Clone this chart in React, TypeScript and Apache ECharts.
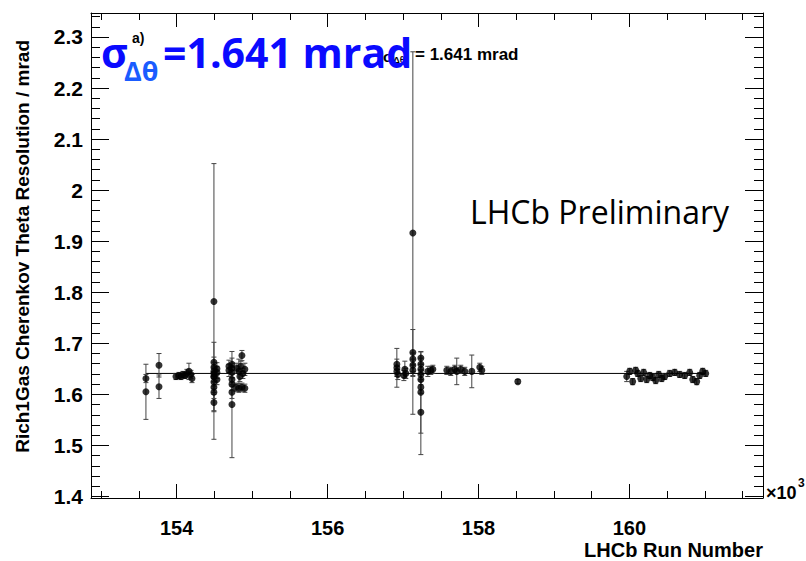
import React, { useEffect, useRef } from 'react';
import * as echarts from 'echarts';

// LHCb run number (in units of 10^3)
const runNumber: number[] = [
  153.593, 153.593, 153.766, 153.766,
  153.991, 154.030, 154.057, 154.083, 154.110, 154.136, 154.163, 154.189, 154.203,
  154.494, 154.494, 154.494, 154.494, 154.494, 154.494, 154.494, 154.494, 154.494, 154.494, 154.494,
  154.534, 154.534, 154.534,
  154.693, 154.693, 154.733, 154.733, 154.733, 154.733, 154.733, 154.733, 154.733,
  154.785, 154.799, 154.825, 154.825, 154.838, 154.851, 154.865, 154.865, 154.878, 154.904, 154.904,
  156.918, 156.918, 156.918, 156.931, 157.024, 157.037, 157.011,
  157.130, 157.130, 157.130, 157.130, 157.130,
  157.236, 157.236, 157.236, 157.236, 157.236, 157.236, 157.236, 157.236,
  157.329, 157.368, 157.395,
  157.580, 157.633, 157.686, 157.712, 157.765, 157.818, 157.911, 158.017, 158.044, 158.521,
  159.964, 160.004, 160.043, 160.083, 160.110, 160.150, 160.189, 160.229, 160.269, 160.309,
  160.348, 160.388, 160.428, 160.468, 160.534, 160.600, 160.666, 160.733, 160.799, 160.839,
  160.892, 160.931, 160.971, 161.011,
];

// Rich1Gas Cherenkov theta resolution (mrad)
const resolution: number[] = [
  1.631, 1.605, 1.657, 1.615,
  1.635, 1.637, 1.635, 1.639, 1.637, 1.641, 1.645, 1.639, 1.631,
  1.782, 1.663, 1.653, 1.645, 1.641, 1.635, 1.634, 1.624, 1.614, 1.604, 1.584,
  1.650, 1.643, 1.629,
  1.647, 1.655, 1.659, 1.651, 1.643, 1.629, 1.620, 1.604, 1.580,
  1.614, 1.651, 1.645, 1.612, 1.635, 1.655, 1.676, 1.614, 1.641, 1.649, 1.612,
  1.659, 1.652, 1.645, 1.639, 1.649, 1.641, 1.637,
  1.916, 1.682, 1.669, 1.657, 1.647,
  1.671, 1.659, 1.649, 1.639, 1.629, 1.614, 1.604, 1.565,
  1.645, 1.647, 1.649,
  1.647, 1.645, 1.649, 1.645, 1.649, 1.645, 1.645, 1.653, 1.647, 1.625,
  1.635, 1.645, 1.625, 1.647, 1.641, 1.631, 1.643, 1.629, 1.637, 1.633,
  1.627, 1.639, 1.631, 1.635, 1.641, 1.643, 1.639, 1.637, 1.643, 1.629,
  1.625, 1.637, 1.645, 1.641,
];

// symmetric uncertainty on the resolution (mrad)
const resolutionErr: number[] = [
  0.008, 0.054, 0.023, 0.023,
  0.006, 0.006, 0.006, 0.006, 0.006, 0.008, 0.016, 0.008, 0.008,
  0.270, 0.010, 0.010, 0.010, 0.010, 0.010, 0.068, 0.012, 0.010, 0.012, 0.016,
  0.012, 0.012, 0.010,
  0.012, 0.012, 0.012, 0.010, 0.010, 0.010, 0.012, 0.012, 0.104,
  0.008, 0.010, 0.024, 0.008, 0.010, 0.010, 0.010, 0.008, 0.010, 0.012, 0.008,
  0.010, 0.038, 0.010, 0.010, 0.016, 0.010, 0.010,
  0.355, 0.045, 0.012, 0.012, 0.012,
  0.012, 0.012, 0.010, 0.010, 0.010, 0.012, 0.080, 0.083,
  0.010, 0.008, 0.008,
  0.008, 0.008, 0.008, 0.026, 0.008, 0.008, 0.032, 0.008, 0.008, 0.004,
  0.010, 0.006, 0.006, 0.006, 0.006, 0.006, 0.006, 0.006, 0.006, 0.006,
  0.006, 0.006, 0.006, 0.006, 0.006, 0.006, 0.006, 0.006, 0.006, 0.006,
  0.006, 0.006, 0.006, 0.006,
];

const fitValue = 1.641;
const fitRange: number[] = [153.593, 161.011];

const xMajorTicks: number[] = [154, 156, 158, 160];
const xMinorTicks: number[] = [153, 153.5, 154.5, 155, 155.5, 156.5, 157, 157.5, 158.5, 159, 159.5, 160.5, 161, 161.5];
const yMajorTicks: number[] = [1.4, 1.5, 1.6, 1.7, 1.8, 1.9, 2.0, 2.1, 2.2, 2.3];
const yMinorTicks: number[] = [
  1.42, 1.44, 1.46, 1.48, 1.52, 1.54, 1.56, 1.58, 1.62, 1.64, 1.66, 1.68,
  1.72, 1.74, 1.76, 1.78, 1.82, 1.84, 1.86, 1.88, 1.92, 1.94, 1.96, 1.98,
  2.02, 2.04, 2.06, 2.08, 2.12, 2.14, 2.16, 2.18, 2.22, 2.24, 2.26, 2.28,
  2.32, 2.34,
];

const X_MIN = 152.865;
const X_MAX = 161.77;
const Y_MIN = 1.397;
const Y_MAX = 2.347;

const AXIS_FONT = 'Liberation Sans';

export default function App() {
  const ref = useRef<HTMLDivElement>(null);

  useEffect(() => {
    if (!ref.current) return;
    const chart = echarts.init(ref.current, null, { renderer: 'svg' });

    const black = { color: '#000', width: 1 };
    const xBase = { type: 'value', min: X_MIN, max: X_MAX, splitLine: { show: false }, gridIndex: 0 };
    const yBase = { type: 'value', min: Y_MIN, max: Y_MAX, splitLine: { show: false }, gridIndex: 0 };
    const labelStyle = {
      fontFamily: AXIS_FONT,
      fontWeight: 'bold',
      color: '#000',
    };

    const option: any = {
      animation: false,
      backgroundColor: '#fff',
      grid: { left: 91, right: 43, top: 13, bottom: 63, containLabel: false },
      xAxis: [
        {
          ...xBase,
          position: 'bottom',
          axisLine: { show: true, onZero: false, lineStyle: black },
          axisTick: { show: true, inside: true, length: 14, customValues: xMajorTicks, lineStyle: black },
          axisLabel: {
            show: true,
            customValues: xMajorTicks,
            margin: 20,
            fontSize: 20,
            formatter: (v: number) => String(Math.round(v)),
            ...labelStyle,
          },
        },
        {
          ...xBase,
          position: 'bottom',
          axisLine: { show: false, onZero: false },
          axisTick: { show: true, inside: true, length: 7, customValues: xMinorTicks, lineStyle: black },
          axisLabel: { show: false },
        },
        {
          ...xBase,
          position: 'top',
          axisLine: { show: true, onZero: false, lineStyle: black },
          axisTick: { show: true, inside: true, length: 14, customValues: xMajorTicks, lineStyle: black },
          axisLabel: { show: false },
        },
        {
          ...xBase,
          position: 'top',
          axisLine: { show: false, onZero: false },
          axisTick: { show: true, inside: true, length: 7, customValues: xMinorTicks, lineStyle: black },
          axisLabel: { show: false },
        },
      ],
      yAxis: [
        {
          ...yBase,
          position: 'left',
          axisLine: { show: true, onZero: false, lineStyle: black },
          axisTick: { show: true, inside: true, length: 18, customValues: yMajorTicks, lineStyle: black },
          axisLabel: {
            show: true,
            customValues: yMajorTicks,
            margin: 8,
            fontSize: 21,
            formatter: (v: number) => String(parseFloat(v.toFixed(1))),
            ...labelStyle,
          },
        },
        {
          ...yBase,
          position: 'left',
          axisLine: { show: false, onZero: false },
          axisTick: { show: true, inside: true, length: 9, customValues: yMinorTicks, lineStyle: black },
          axisLabel: { show: false },
        },
        {
          ...yBase,
          position: 'right',
          axisLine: { show: true, onZero: false, lineStyle: black },
          axisTick: { show: true, inside: true, length: 18, customValues: yMajorTicks, lineStyle: black },
          axisLabel: { show: false },
        },
        {
          ...yBase,
          position: 'right',
          axisLine: { show: false, onZero: false },
          axisTick: { show: true, inside: true, length: 9, customValues: yMinorTicks, lineStyle: black },
          axisLabel: { show: false },
        },
      ],
      series: [
        {
          type: 'line',
          xAxisIndex: 0,
          yAxisIndex: 0,
          data: [[fitRange[0], fitValue], [fitRange[1], fitValue]],
          showSymbol: false,
          symbol: 'none',
          lineStyle: { color: '#000', width: 1 },
          z: 1,
          silent: true,
        },
        {
          type: 'custom',
          xAxisIndex: 0,
          yAxisIndex: 0,
          data: runNumber.map((x, i) => [x, resolution[i], resolutionErr[i]]),
          encode: { x: 0, y: 1 },
          z: 2,
          renderItem: (params: any, api: any) => {
            const x = api.value(0);
            const y = api.value(1);
            const e = api.value(2);
            const top = api.coord([x, y + e]);
            const bot = api.coord([x, y - e]);
            const cw = 2.5;
            const st = { stroke: '#444', lineWidth: 1 };
            return {
              type: 'group',
              children: [
                { type: 'line', shape: { x1: top[0], y1: top[1], x2: bot[0], y2: bot[1] }, style: st },
                { type: 'line', shape: { x1: top[0] - cw, y1: top[1], x2: top[0] + cw, y2: top[1] }, style: st },
                { type: 'line', shape: { x1: bot[0] - cw, y1: bot[1], x2: bot[0] + cw, y2: bot[1] }, style: st },
              ],
            };
          },
          silent: true,
        },
        {
          type: 'scatter',
          xAxisIndex: 0,
          yAxisIndex: 0,
          data: runNumber.map((x, i) => [x, resolution[i]]),
          symbol: 'circle',
          symbolSize: 7,
          itemStyle: { color: '#000' },
          z: 3,
          silent: true,
        },
      ],
      graphic: [
        // axis titles
        {
          type: 'text',
          x: 763,
          y: 550,
          z: 100,
          style: {
            text: 'LHCb Run Number',
            fill: '#000',
            font: `bold 20px "${AXIS_FONT}"`,
            align: 'right',
            verticalAlign: 'middle',
          },
        },
        {
          type: 'text',
          x: 22,
          y: 40,
          rotation: Math.PI / 2,
          z: 100,
          style: {
            text: 'Rich1Gas Cherenkov Theta Resolution / mrad',
            fill: '#000',
            font: `bold 19px "${AXIS_FONT}"`,
            align: 'right',
            verticalAlign: 'middle',
          },
        },
        {
          type: 'text',
          x: 766,
          y: 493,
          z: 100,
          style: { text: '×10', fill: '#000', font: `bold 18px "${AXIS_FONT}"`, align: 'left', verticalAlign: 'middle' },
        },
        {
          type: 'text',
          x: 798,
          y: 483,
          z: 100,
          style: { text: '3', fill: '#000', font: `bold 12px "${AXIS_FONT}"`, align: 'left', verticalAlign: 'middle' },
        },
        // original small annotation (partly hidden under the blue overlay)
        {
          type: 'text',
          x: 132,
          y: 38,
          z: 100,
          style: { text: 'a)', fill: '#000', font: `bold 14px "${AXIS_FONT}"`, align: 'left', verticalAlign: 'middle' },
        },
        {
          type: 'text',
          x: 383,
          y: 56,
          z: 100,
          style: {
            text: '{s|σ}{sub|Δθ}',
            fill: '#000',
            font: `bold 15px "${AXIS_FONT}"`,
            align: 'left',
            verticalAlign: 'middle',
            rich: {
              s: { font: `bold 15px "${AXIS_FONT}"`, fill: '#000' },
              sub: { font: `bold 9px "${AXIS_FONT}"`, fill: '#000', padding: [8, 0, 0, 0] },
            },
          },
        },
        {
          type: 'text',
          x: 415,
          y: 54,
          z: 100,
          style: { text: '= 1.641 mrad', fill: '#000', font: `bold 17px "${AXIS_FONT}"`, align: 'left', verticalAlign: 'middle' },
        },
        // big blue overlay
        {
          type: 'text',
          x: 101,
          y: 52,
          z: 110,
          style: { text: 'σ', fill: '#0a0aff', font: 'bold 41px "Open Sans"', align: 'left', verticalAlign: 'middle' },
        },
        {
          type: 'text',
          x: 124,
          y: 70,
          z: 110,
          style: { text: 'Δθ', fill: '#1a5cff', font: 'bold 27px "Open Sans"', align: 'left', verticalAlign: 'middle' },
        },
        {
          type: 'text',
          x: 163,
          y: 52,
          z: 110,
          style: { text: '=1.641 mrad', fill: '#0a0aff', font: 'bold 41px "Open Sans"', align: 'left', verticalAlign: 'middle' },
        },
        {
          type: 'text',
          x: 470,
          y: 211,
          z: 100,
          style: { text: 'LHCb Preliminary', fill: '#000', font: '32px "Open Sans"', align: 'left', verticalAlign: 'middle' },
        },
      ],
    };

    chart.setOption(option);
    return () => chart.dispose();
  }, []);

  return (
    <div
      ref={ref}
      style={{ position: 'absolute', left: 0, top: 0, width: 806, height: 561, background: '#fff' }}
    />
  );
}
